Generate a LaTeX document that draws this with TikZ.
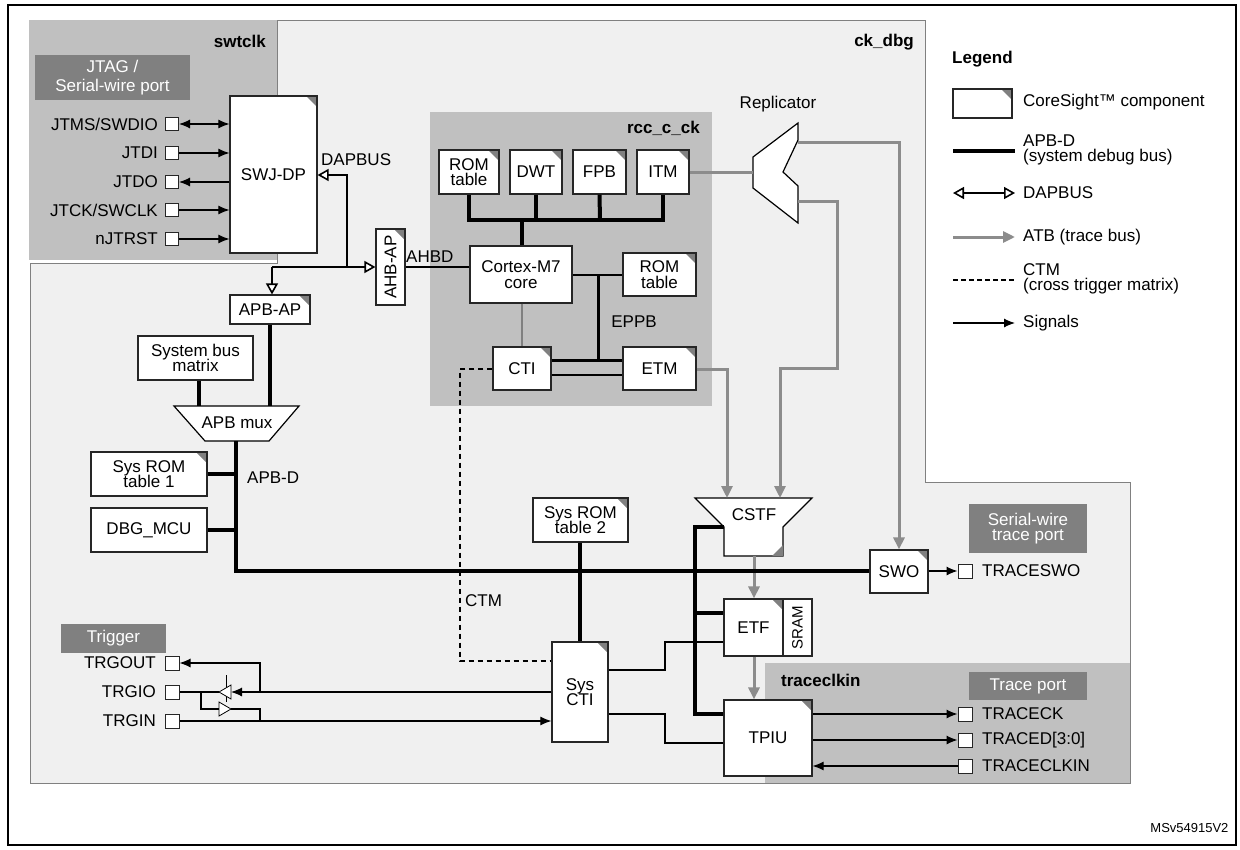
\documentclass[tikz,border=0pt]{standalone}
\usepackage{fontspec}
\setmainfont{Liberation Sans}
\usetikzlibrary{arrows.meta}
\definecolor{lg}{HTML}{F0F0F0}
\definecolor{mg}{HTML}{C0C0C0}
\definecolor{dg}{HTML}{808080}
\definecolor{tg}{HTML}{8C8C8C}
\newcommand\fs{\fontsize{17}{18.5}\selectfont}
\newcommand\bx[7][box]{\node[#1, minimum width={(#5-#3)*1pt}, minimum height={(#6-#4)*1pt}] (#2) at ({(#3+#5)/2},{(#4+#6)/2}) {#7};}
\tikzset{
 box/.style={draw=black!85, fill=white, line width=1.2pt, inner sep=0pt, align=center, font=\fs},
 cs/.style={box, path picture={\fill[dg] ([xshift=-11pt]path picture bounding box.north east) -- (path picture bounding box.north east) -- ([yshift=-11pt]path picture bounding box.north east) -- cycle;}},
 pin/.style={draw=black!85, fill=white, line width=1pt, inner sep=0pt},
 lbl/.style={font=\fs, inner sep=1pt},
 blbl/.style={font=\fs\bfseries, inner sep=1pt},
 port/.style={fill=dg, text=white, inner sep=0pt, align=center, font=\fs},
 sig/.style={line width=1.1pt, -{Latex[length=11pt,width=9pt]}},
 sigs/.style={line width=1.1pt},
 apb/.style={line width=4pt},
 atb/.style={draw=tg, line width=3pt},
 atba/.style={atb, -{Triangle[length=12pt,width=11pt,fill=tg]}},
 dap/.style={line width=1.6pt},
 opn/.tip={Triangle[open,length=11pt,width=12pt,fill=white]},
}
\begin{document}
\begin{tikzpicture}[x=1pt,y=-1pt]
\useasboundingbox (0,0) rectangle (1240,849);
\fill[white] (0,0) rectangle (1240,849);
\draw[line width=1.2pt] (8,5) rectangle (1236,845);
% regions
\filldraw[fill=lg, draw=gray, line width=1pt] (30,263) -- (30,783) -- (1130,783) -- (1130,482) -- (925,482) -- (925,20) -- (277,20) -- (277,263) -- cycle;
\fill[mg] (29,20) rectangle (277,260);
\fill[mg] (430,112) rectangle (712,406);
\fill[mg] (765,663) rectangle (1130,783);
\node[blbl, anchor=east] (lswt) at (267,41) {swtclk};
\node[blbl, anchor=east] (lck) at (915,42) {ck\_dbg};
\node[blbl, anchor=east] (lrcc) at (701,128) {rcc\_c\_ck};
\node[blbl, anchor=west] (ltrc) at (780,680) {traceclkin};
% JTAG port
\bx[port]{jtag}{35}{55}{190}{100}{JTAG /\\Serial-wire port}
\bx[cs]{swj}{230}{96}{317}{253}{SWJ-DP}
\foreach \n/\t/\y in {p1/JTMS\slash SWDIO/124, p2/JTDI/153, p3/JTDO/182, p4/JTCK\slash SWCLK/210, p5/nJTRST/239}{
  \node[pin, minimum size=13pt] (\n) at (172,\y) {};
  \node[lbl, anchor=east] (\n l) at (159,\y) {\t};
}
\draw[line width=1.1pt, {Latex[length=11pt,width=9pt]}-{Latex[length=11pt,width=9pt]}] (p1.east) -- (p1.east -| swj.west);
\draw[sig] (p2.east) -- (p2.east -| swj.west);
\draw[sig] (p3.east -| swj.west) -- (p3.east);
\draw[sig] (p4.east) -- (p4.east -| swj.west);
\draw[sig] (p5.east) -- (p5.east -| swj.west);
% DAPBUS
\bx[cs]{ahbap}{376}{229}{405}{305}{}
\node[lbl, rotate=90] (ahbapt) at (ahbap) {AHB-AP};
\bx[cs]{apbap}{230}{295}{310}{324}{APB-AP}
\coordinate (d1) at (347,267);
\coordinate (d2) at (272,267);
\draw[dap, opn-] (swj.east |- 0,175) -- (347,175) -- (d1);
\draw[dap, -opn] (d2) -- (ahbap.west |- d2);
\draw[dap, -opn] (d2) -- (apbap.north -| d2);
\node[lbl, anchor=west] (ldap) at (320,160) {DAPBUS};
\node[lbl, anchor=west] (lahbd) at (405,257) {AHBD};
% rcc box
\bx[cs]{rom}{439}{150}{499}{194}{ROM\\[-3pt]table}
\bx[cs]{dwt}{510}{150}{562}{194}{DWT}
\bx[cs]{fpb}{573}{150}{626}{194}{FPB}
\bx[cs]{itm}{637}{150}{689}{194}{ITM}
\bx{cm7}{470}{246}{572}{303}{Cortex-M7\\[-3pt]core}
\bx[cs]{rom2}{623}{253}{696}{296}{ROM\\[-3pt]table}
\bx[cs]{cti}{493}{347}{551}{390}{CTI}
\bx[cs]{etm}{623}{347}{696}{390}{ETM}
\draw[apb] (rom.south) -- (469,220) -- (663,220) -- (itm.south);
\draw[apb] (dwt.south) -- (536,220);
\draw[apb] (fpb.south) -- (600,220);
\draw[apb] (522,220) -- (cm7.north -| 522,0);
\draw[sigs] (ahbap.east |- 0,267) -- (cm7.west |- 0,267);
\draw[line width=1.6pt] (cm7.east |- 0,275) -- (rom2.west |- 0,275);
\draw[line width=3pt] (598,275) -- (598,360);
\draw[line width=3pt] (cti.east |- 0,360) -- (etm.west |- 0,360);
\draw[sigs] (cti.east |- 0,375) -- (etm.west |- 0,375);
\draw[sigs, draw=dg] (cm7.south -| 522,0) -- (cti.north -| 522,0);
\node[lbl] (leppb) at (634,322) {EPPB};
% replicator
\draw[fill=white, line width=1.2pt] (753,157) -- (798,123) -- (798,140) -- (783,172) -- (798,186) -- (798,223) -- (753,188) -- cycle;
\coordinate (repin) at (753,172);
\coordinate (rep1) at (798,142);
\coordinate (rep2) at (798,201);
\node[lbl] (lrep) at (778,104) {Replicator};
\draw[atb] (itm.east |- repin) -- (repin);
% CSTF
\draw[fill=white, line width=1.2pt] (695,498) -- (812,498) -- (783,527) -- (783,556) -- (724,556) -- (724,527) -- cycle;
\fill[dg] (783,545) -- (783,556) -- (772,556) -- cycle;
\node[lbl] (cstf) at (754,515) {CSTF};
\coordinate (cstfin1) at (728,498);
\coordinate (cstfin2) at (780,498);
\coordinate (cstfout) at (754,556);
\bx[cs]{etf}{724}{599}{783}{656}{ETF}
\bx{sram}{783}{599}{812}{656}{}
\node[font=\fontsize{15}{16}\selectfont, rotate=90, inner sep=0pt] (sramt) at (sram) {SRAM};
\bx[cs]{tpiu}{724}{700}{812}{776}{TPIU}
\bx[cs]{swo}{870}{550}{928}{593}{SWO}
\draw[atba] (etm.east |- 0,369) -- (727,369) -- (cstfin1 -| 727,0);
\draw[atba] (rep2) -- (837,201) -- (837,368) -- (780,368) -- (cstfin2);
\draw[atba] (rep1) -- (899,142) -- (swo.north -| 899,0);
\draw[atba] (cstfout) -- (etf.north -| cstfout);
\draw[atba] (etf.south -| cstfout) -- (tpiu.north -| cstfout);
% APB side
\bx{sbm}{138}{336}{253}{380}{System bus\\[-3pt]matrix}
\draw[fill=white, line width=1.2pt] (174,406) -- (299,406) -- (269,441) -- (205,441) -- cycle;
\node[lbl] (apbmux) at (237,423) {APB mux};
\coordinate (muxout) at (236,441);
\bx[cs]{sr1}{91}{452}{207}{496}{Sys ROM\\[-3pt]table 1}
\bx{dbg}{91}{508}{207}{552}{DBG\_MCU}
\node[lbl, anchor=west] (lapbd) at (246,478) {APB-D};
\draw[apb] (apbap.south -| 270,0) -- (270,406);
\draw[apb] (sbm.south -| 199,0) -- (199,406);
\draw[apb] (muxout) -- (236,571) -- (swo.west |- 0,571);
\draw[apb] (sr1.east) -- (236,474);
\draw[apb] (dbg.east) -- (236,530);
\draw[apb] (tpiu.west |- 0,714) -- (695,714) -- (695,527) -- (724,527);
\draw[apb] (695,613) -- (etf.west |- 0,613);
% Sys ROM 2, Sys CTI
\bx[cs]{sr2}{533}{498}{628}{542}{Sys ROM\\[-3pt]table 2}
\bx[cs]{sysc}{552}{642}{608}{742}{Sys\\[-3pt]CTI}
\draw[apb] (sr2.south -| 580,0) -- (sysc.north -| 580,0);
\draw[line width=2.5pt, dash pattern=on 5pt off 4pt] (cti.west |- 0,369) -- (460,369) -- (460,661) -- (sysc.west |- 0,661);
\node[lbl, anchor=west] (lctm) at (464,601) {CTM};
\draw[sigs] (sysc.east |- 0,670) -- (665,670) -- (665,642) -- (etf.west |- 0,642);
\draw[sigs] (sysc.east |- 0,714) -- (665,714) -- (665,743) -- (tpiu.west |- 0,743);
% trigger
\bx[port]{trig}{61}{624}{166}{653}{Trigger}
\foreach \n/\t/\y in {t1/TRGOUT/663, t2/TRGIO/692, t3/TRGIN/721}{
  \node[pin, minimum size=14pt] (\n) at (172,\y) {};
  \node[lbl, anchor=east] (\n l) at (157,\y) {\t};
}
\draw[sig] (sysc.west |- t2) -- (231,692);
\draw[sigs] (219,692) -- (t2.east);
\draw[line width=0.8pt] (226,675) -- (226,702);
\draw[line width=0.8pt, fill=white] (219,692) -- (231,685) -- (231,699) -- cycle;
\draw[sigs] (201,692) -- (201,709) -- (219,709);
\draw[line width=0.8pt, fill=white] (231,709) -- (219,702) -- (219,716) -- cycle;
\draw[sigs] (231,709) -- (260,709) -- (260,721);
\draw[sig] (260,692) -- (260,663) -- (t1.east);
\draw[sig] (t3.east) -- (sysc.west |- t3);
% trace ports
\bx[port]{swtp}{969}{504}{1087}{553}{Serial-wire\\[-3pt]trace port}
\bx[port]{tp}{969}{672}{1087}{700}{Trace port}
\node[pin, minimum size=14pt] (tswo) at (965,571) {};
\node[lbl, anchor=west] (ltswo) at (981,571) {TRACESWO};
\draw[sig] (swo.east |- tswo) -- (tswo.west);
\foreach \n/\t/\y in {tc/TRACECK/714, td/TRACED[3:0]/740, tk/TRACECLKIN/766}{
  \node[pin, minimum size=14pt] (\n) at (965,\y) {};
  \node[lbl, anchor=west] (\n l) at (981,\y) {\t};
}
\draw[sig] (tpiu.east |- tc) -- (tc.west);
\draw[sig] (tpiu.east |- td) -- (td.west);
\draw[sig] (tk.west) -- (tpiu.east |- tk);
% legend
\node[blbl, anchor=west] (leg) at (951,59) {Legend};
\bx[cs]{lgb}{953}{89}{1012}{118}{}
\node[lbl, anchor=west] (lg1) at (1022,102) {CoreSight™ component};
\coordinate (la1) at (953,151); \coordinate (lb1) at (1015,151);
\draw[apb] (la1) -- (lb1);
\node[lbl, anchor=west, align=left] (lg2) at (1022,150) {APB-D\\[-3pt](system debug bus)};
\coordinate (la2) at (953,193); \coordinate (lb2) at (1015,193);
\draw[dap, opn-opn] (la2) -- (lb2);
\node[lbl, anchor=west] (lg3) at (1022,193) {DAPBUS};
\coordinate (la3) at (953,237); \coordinate (lb3) at (1015,237);
\draw[atba] (la3) -- (lb3);
\node[lbl, anchor=west] (lg4) at (1022,237) {ATB (trace bus)};
\coordinate (la4) at (953,280); \coordinate (lb4) at (1015,280);
\draw[line width=2.2pt, dash pattern=on 5pt off 3pt] (la4) -- (lb4);
\node[lbl, anchor=west, align=left] (lg5) at (1022,279) {CTM\\[-3pt](cross trigger matrix)};
\coordinate (la5) at (953,323); \coordinate (lb5) at (1015,323);
\draw[sig] (la5) -- (lb5);
\node[lbl, anchor=west] (lg6) at (1022,323) {Signals};
\node[font=\fontsize{13}{14}\selectfont, anchor=east] (msv) at (1232,828) {MSv54915V2};
\end{tikzpicture}
\end{document}
